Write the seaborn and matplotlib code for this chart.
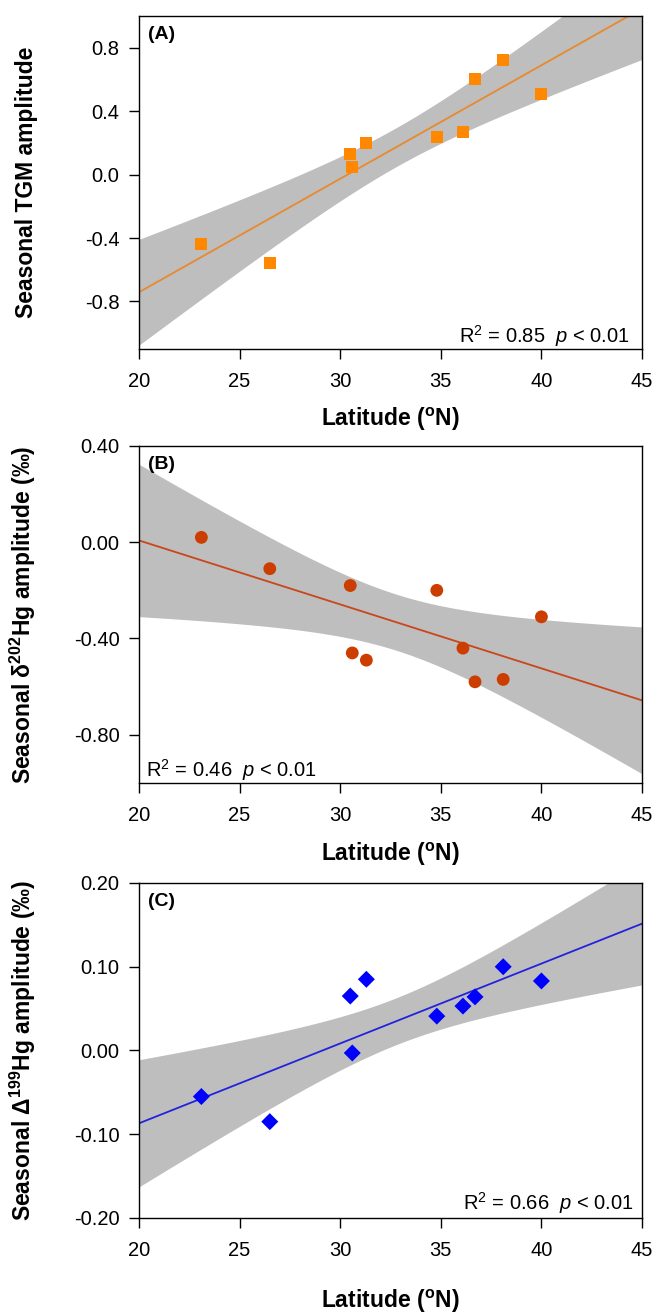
import numpy as np
import pandas as pd
import seaborn as sns
import matplotlib
matplotlib.use("Agg")
import matplotlib.pyplot as plt

# Site latitudes and seasonal amplitudes
latitude = [23.1, 26.5, 30.5, 30.6, 31.3, 34.8, 36.1, 36.7, 38.1, 40.0]
tgm_amp = [-0.44, -0.56, 0.13, 0.05, 0.20, 0.24, 0.27, 0.60, 0.72, 0.51]
d202_amp = [0.02, -0.11, -0.18, -0.46, -0.49, -0.20, -0.44, -0.58, -0.57, -0.31]
D199_amp = [-0.055, -0.085, 0.065, -0.003, 0.085, 0.041, 0.053, 0.064, 0.100, 0.083]

r2_labels = ["0.85", "0.46", "0.66"]
panel_letters = ["(A)", "(B)", "(C)"]

sns.set_style("ticks")
plt.rcParams["font.family"] = ["Liberation Sans", "DejaVu Sans"]
plt.rcParams["mathtext.fontset"] = "custom"
plt.rcParams["mathtext.rm"] = "Liberation Sans"
plt.rcParams["mathtext.it"] = "Liberation Sans:italic"
plt.rcParams["mathtext.bf"] = "Liberation Sans:bold"
plt.rcParams["axes.unicode_minus"] = False
plt.rcParams["axes.linewidth"] = 1.0
for key in ["text.color", "axes.labelcolor", "xtick.color", "ytick.color", "axes.edgecolor"]:
    plt.rcParams[key] = "black"


def ci_band(x, y, xs, t_crit=2.306):
    # analytic 95% confidence band of the OLS fit (n = 10, df = 8)
    x = np.asarray(x)
    y = np.asarray(y)
    n = len(x)
    b, a = np.polyfit(x, y, 1)
    resid = y - (a + b * x)
    s = np.sqrt(np.sum(resid ** 2) / (n - 2))
    sxx = np.sum((x - x.mean()) ** 2)
    se = s * np.sqrt(1 / n + (xs - x.mean()) ** 2 / sxx)
    fit = a + b * xs
    return fit - t_crit * se, fit + t_crit * se


fig = plt.figure(figsize=(6.55, 13.13), dpi=100)
left, width = 0.2122, 0.768
axes = [
    fig.add_axes([left, 0.7342, width, 0.2536]),
    fig.add_axes([left, 0.4037, width, 0.2567]),
    fig.add_axes([left, 0.0724, width, 0.2551]),
]

panels = [
    dict(y=tgm_amp, marker="s", mc="#FF8800", lc="#E8892E", s=75,
         ylim=(-1.1, 1.0), ticks=[-0.8, -0.4, 0.0, 0.4, 0.8], fmt="{:.1f}",
         ylabel="Seasonal TGM amplitude", xlab_y=-0.171,
         r2_pos=(0.976, 0.02), r2_ha="right"),
    dict(y=d202_amp, marker="o", mc="#CC3D00", lc="#C9461B", s=85,
         ylim=(-1.0, 0.4), ticks=[-0.8, -0.4, 0.0, 0.4], fmt="{:.2f}",
         ylabel="Seasonal δ$^{\\mathbf{202}}$Hg amplitude (‰)", xlab_y=-0.172,
         r2_pos=(0.014, 0.018), r2_ha="left"),
    dict(y=D199_amp, marker="D", mc="#0000FF", lc="#2222DD", s=75,
         ylim=(-0.2, 0.2), ticks=[-0.2, -0.1, 0.0, 0.1, 0.2], fmt="{:.2f}",
         ylabel="Seasonal Δ$^{\\mathbf{199}}$Hg amplitude (‰)", xlab_y=-0.209,
         r2_pos=(0.984, 0.024), r2_ha="right"),
]

xs = np.linspace(20, 45, 200)
for ax, p, letter, r2 in zip(axes, panels, panel_letters, r2_labels):
    ax.set_xlim(20, 45)
    ax.set_ylim(*p["ylim"])
    lo, hi = ci_band(latitude, p["y"], xs)
    ax.fill_between(xs, lo, hi, color="#BEBEBE", lw=0, zorder=0)
    df = pd.DataFrame({"lat": latitude, "amp": p["y"]})
    sns.regplot(data=df, x="lat", y="amp", ax=ax, ci=None, truncate=False,
                marker=p["marker"],
                scatter_kws=dict(s=p["s"], color=p["mc"], edgecolors="none", alpha=1, zorder=3),
                line_kws=dict(color=p["lc"], lw=1.3, zorder=2))
    ax.set_xlim(20, 45)
    ax.set_ylim(*p["ylim"])
    ax.set_xticks([20, 25, 30, 35, 40, 45])
    ax.set_yticks(p["ticks"])
    ax.set_yticklabels([p["fmt"].format(t) for t in p["ticks"]])
    ax.tick_params(axis="both", labelsize=14.5, length=7, width=1.0, direction="out",
                   top=False, right=False, colors="black")
    ax.tick_params(axis="x", pad=9.5)
    ax.tick_params(axis="y", pad=7)
    for sp in ax.spines.values():
        sp.set_visible(True)
        sp.set_color("black")
    ax.set_xlabel("Latitude ($^{\\mathbf{o}}$N)", fontsize=16.5, fontweight="bold")
    ax.xaxis.set_label_coords(0.5, p["xlab_y"])
    ax.set_ylabel(p["ylabel"], fontsize=16.5, fontweight="bold")
    ax.yaxis.set_label_coords(-0.20, 0.5)
    ax.text(0.018, 0.97, letter, transform=ax.transAxes, fontsize=14,
            fontweight="bold", ha="left", va="top")
    ax.text(p["r2_pos"][0], p["r2_pos"][1], "R$^2$ = " + r2 + "  $\\it{p}$ < 0.01",
            transform=ax.transAxes, fontsize=14.5, ha=p["r2_ha"], va="baseline")

fig.savefig("out.png", dpi=100)
